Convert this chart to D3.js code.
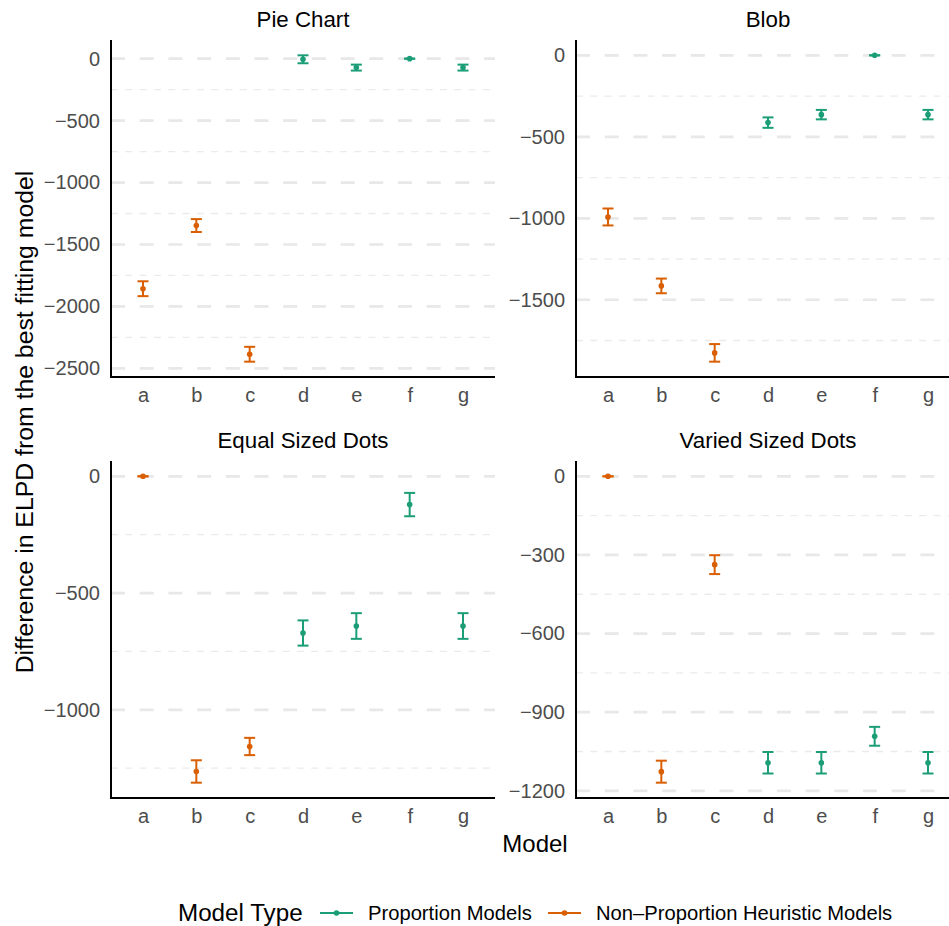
<!DOCTYPE html>
<html>
  <head>
    <title>ELPD differences</title>
    <script src="https://d3js.org/d3.v7.min.js"></script>
    <style>
        body { margin: 0; background-color: white; }
        svg { display: block; font-family: "Liberation Sans", Arial, sans-serif; }
    </style>
  </head>
  <body>
    <svg id="chart" width="949" height="926"></svg>
  </body>
  <script>
    // models on the x axis and which family each one belongs to
    const models = ["a", "b", "c", "d", "e", "f", "g"];
    const modelFamily = ["Non–Proportion Heuristic Models", "Non–Proportion Heuristic Models",
        "Non–Proportion Heuristic Models", "Proportion Models", "Proportion Models",
        "Proportion Models", "Proportion Models"];
    const familyNames = ["Proportion Models", "Non–Proportion Heuristic Models"];
    const familyColors = ["#1B9E77", "#D95F02"];

    const panelTitles = ["Pie Chart", "Blob", "Equal Sized Dots", "Varied Sized Dots"];

    // difference in elpd and its standard error
    const pieElpd = [-1857, -1347, -2386, -5, -72, 0, -72];
    const pieSe = [60, 52, 60, 32, 24, 0, 24];
    const blobElpd = [-992, -1415, -1826, -413, -364, 0, -364];
    const blobSe = [52, 45, 54, 32, 29, 0, 29];
    const equalElpd = [0, -1264, -1157, -671, -641, -121, -641];
    const equalSe = [0, 48, 37, 54, 55, 50, 55];
    const variedElpd = [0, -1127, -337, -1093, -1093, -992, -1093];
    const variedSe = [0, 42, 36, 41, 41, 36, 41];

    // y ticks per panel
    const pieTicks = [0, -500, -1000, -1500, -2000, -2500];
    const blobTicks = [0, -500, -1000, -1500];
    const equalTicks = [0, -500, -1000];
    const variedTicks = [0, -300, -600, -900, -1200];

    const svg = d3.select("#chart");
    const fmt = d => d < 0 ? "\u2212" + Math.abs(d) : String(d);

    const panelW = 384, panelH = 337;
    const panels = [
        {title: panelTitles[0], elpd: pieElpd, se: pieSe, ticks: pieTicks, x0: 111, y0: 40},
        {title: panelTitles[1], elpd: blobElpd, se: blobSe, ticks: blobTicks, x0: 576, y0: 40},
        {title: panelTitles[2], elpd: equalElpd, se: equalSe, ticks: equalTicks, x0: 111, y0: 461},
        {title: panelTitles[3], elpd: variedElpd, se: variedSe, ticks: variedTicks, x0: 576, y0: 461}
    ];

    const color = d3.scaleOrdinal().domain(familyNames).range(familyColors);

    panels.forEach(p => {
        const rows = models.map((m, i) => ({model: m, family: modelFamily[i], elpd: p.elpd[i], se: p.se[i]}));
        const lo = d3.min(rows, d => d.elpd - d.se);
        const hi = d3.max(rows, d => d.elpd + d.se);
        const pad = (hi - lo) * 0.05;

        const x = d3.scalePoint().domain(models).range([p.x0, p.x0 + panelW]).padding(0.6);
        const y = d3.scaleLinear().domain([lo - pad, hi + pad]).range([p.y0 + panelH, p.y0]);

        // minor grid halfway between the major ticks
        const step = p.ticks[0] - p.ticks[1];
        const minor = d3.range(p.ticks[0] + step / 2, lo - pad, -step / 2)
            .filter(v => !p.ticks.includes(v) && v <= hi + pad);

        const g = svg.append("g");

        g.selectAll(".minor")
            .data(minor)
            .enter()
            .append("line")
            .attr("x1", p.x0).attr("x2", p.x0 + panelW)
            .attr("y1", d => y(d)).attr("y2", d => y(d))
            .style("stroke", "#EBEBEB")
            .style("stroke-width", 1.3)
            .style("stroke-dasharray", "7,7.3");

        g.selectAll(".major")
            .data(p.ticks)
            .enter()
            .append("line")
            .attr("x1", p.x0).attr("x2", p.x0 + panelW)
            .attr("y1", d => y(d)).attr("y2", d => y(d))
            .style("stroke", "#E8E8E8")
            .style("stroke-width", 2.7)
            .style("stroke-dasharray", "14,14.7");

        // y axis
        const yAxis = g.append("g")
            .attr("transform", `translate(${p.x0},0)`)
            .call(d3.axisLeft(y).tickValues(p.ticks).tickFormat(fmt).tickSize(0).tickPadding(11));
        yAxis.select(".domain").remove();
        yAxis.selectAll("text")
            .attr("font-family", "Liberation Sans, Arial, sans-serif")
            .attr("font-size", "20px")
            .attr("fill", "#4D4D4D");

        // x axis
        const xAxis = g.append("g")
            .attr("transform", `translate(0,${p.y0 + panelH})`)
            .call(d3.axisBottom(x).tickSize(0).tickPadding(11));
        xAxis.select(".domain").remove();
        xAxis.selectAll("text")
            .attr("font-family", "Liberation Sans, Arial, sans-serif")
            .attr("font-size", "20px")
            .attr("fill", "#4D4D4D");

        // axis lines
        g.append("line")
            .attr("x1", p.x0).attr("x2", p.x0)
            .attr("y1", p.y0).attr("y2", p.y0 + panelH)
            .style("stroke", "black").style("stroke-width", 2);
        g.append("line")
            .attr("x1", p.x0 - 1).attr("x2", p.x0 + panelW)
            .attr("y1", p.y0 + panelH).attr("y2", p.y0 + panelH)
            .style("stroke", "black").style("stroke-width", 2);

        // error bars
        const bars = g.selectAll(".bar")
            .data(rows)
            .enter()
            .append("g")
            .style("stroke", d => color(d.family))
            .style("stroke-width", 2);
        bars.append("line")
            .attr("x1", d => x(d.model)).attr("x2", d => x(d.model))
            .attr("y1", d => y(d.elpd - d.se)).attr("y2", d => y(d.elpd + d.se));
        bars.append("line")
            .attr("x1", d => x(d.model) - 5.5).attr("x2", d => x(d.model) + 5.5)
            .attr("y1", d => y(d.elpd - d.se)).attr("y2", d => y(d.elpd - d.se));
        bars.append("line")
            .attr("x1", d => x(d.model) - 5.5).attr("x2", d => x(d.model) + 5.5)
            .attr("y1", d => y(d.elpd + d.se)).attr("y2", d => y(d.elpd + d.se));

        g.selectAll(".pt")
            .data(rows)
            .enter()
            .append("circle")
            .attr("cx", d => x(d.model))
            .attr("cy", d => y(d.elpd))
            .attr("r", 2.8)
            .style("fill", d => color(d.family));

        // facet title
        g.append("text")
            .attr("x", p.x0 + panelW / 2)
            .attr("y", p.y0 - 13)
            .attr("text-anchor", "middle")
            .attr("font-size", "22.3px")
            .attr("fill", "black")
            .text(p.title);
    });

    // axis titles
    svg.append("text")
        .attr("transform", `translate(33,422) rotate(-90)`)
        .attr("text-anchor", "middle")
        .attr("font-size", "24.8px")
        .text("Difference in ELPD from the best fitting model");

    svg.append("text")
        .attr("x", 535)
        .attr("y", 852)
        .attr("text-anchor", "middle")
        .attr("font-size", "24px")
        .text("Model");

    // legend
    const legend = svg.append("g").attr("transform", "translate(178,921)");
    legend.append("text")
        .attr("x", 0).attr("y", 0)
        .attr("font-size", "24.2px")
        .text("Model Type");

    const keyX = [142, 370];
    familyNames.forEach((name, i) => {
        const k = legend.append("g").attr("transform", `translate(${keyX[i]},-8)`);
        k.append("line")
            .attr("x1", 0).attr("x2", 33)
            .style("stroke", familyColors[i]).style("stroke-width", 2.2);
        k.append("circle")
            .attr("cx", 16.5).attr("r", 2.8)
            .style("fill", familyColors[i]);
        k.append("text")
            .attr("x", 48).attr("y", 7)
            .attr("font-size", "20.2px")
            .text(name);
    });
  </script>
</html>
